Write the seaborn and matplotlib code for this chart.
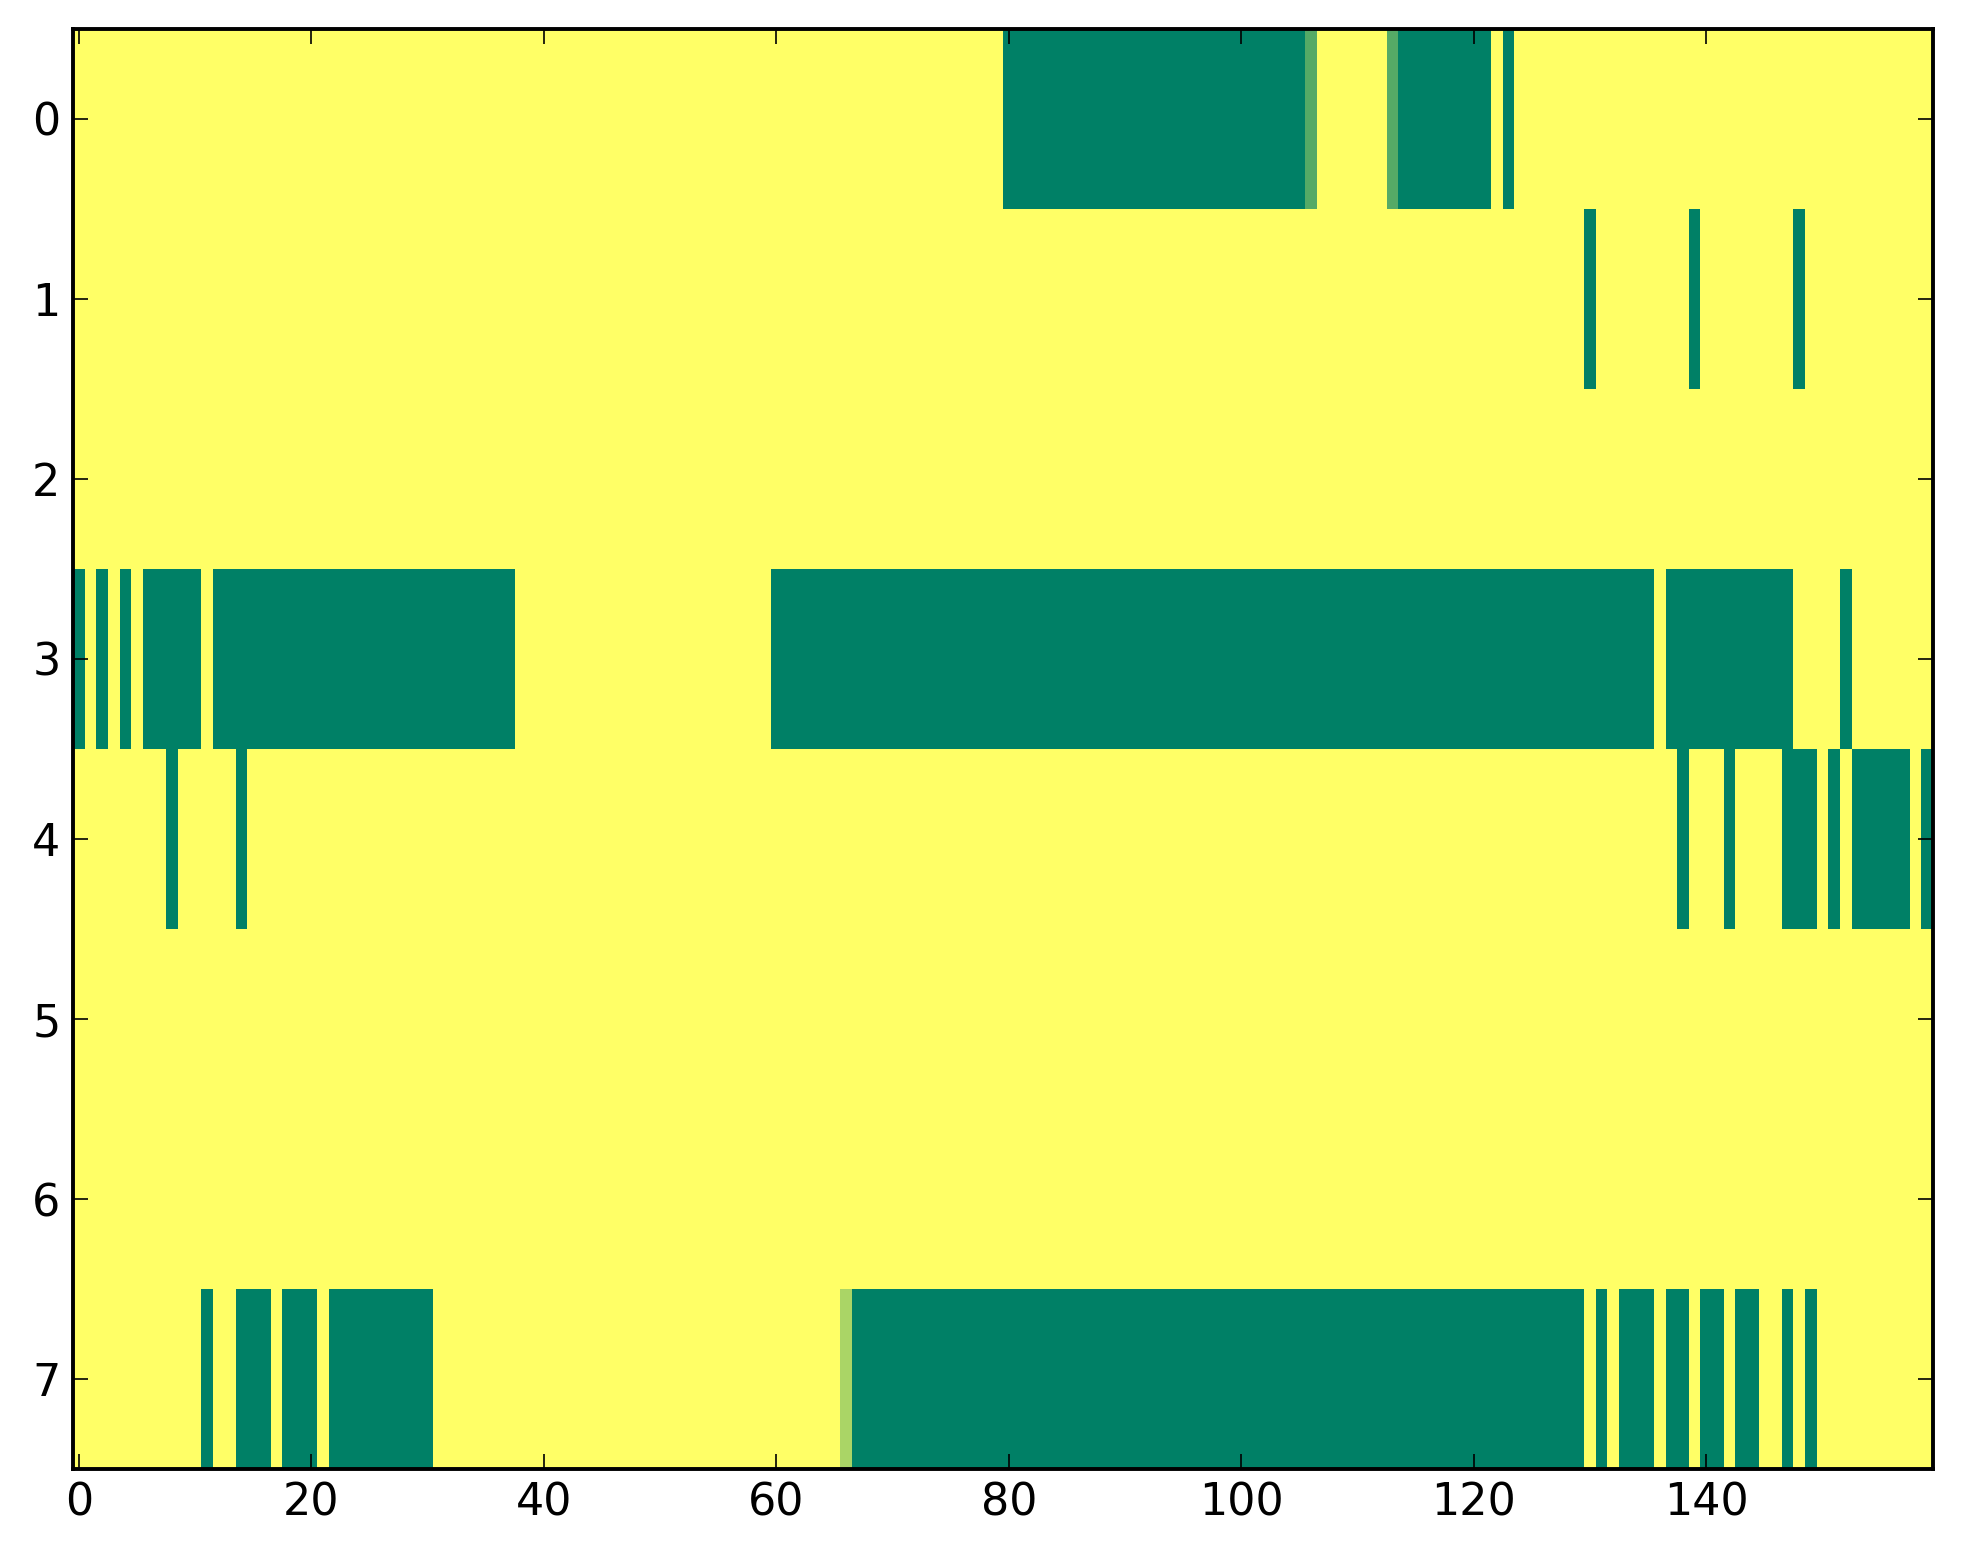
import numpy as np
import pandas as pd
import matplotlib
matplotlib.use("Agg")
import matplotlib.pyplot as plt
import seaborn as sns

# Runs of non-zero cells per row as (first_col, last_col, value)
n_cols = 160
row_labels = [0, 1, 2, 3, 4, 5, 6, 7]
row0 = [(80, 105, 1.0), (106, 106, 2 / 3), (113, 113, 2 / 3), (114, 121, 1.0), (123, 123, 1.0)]
row1 = [(130, 130, 1.0), (139, 139, 1.0), (148, 148, 1.0)]
row2 = []
row3 = [(0, 0, 1.0), (2, 2, 1.0), (4, 4, 1.0), (6, 10, 1.0), (12, 37, 1.0),
        (60, 135, 1.0), (137, 147, 1.0), (152, 152, 1.0)]
row4 = [(8, 8, 1.0), (14, 14, 1.0), (138, 138, 1.0), (142, 142, 1.0), (147, 149, 1.0),
        (151, 151, 1.0), (153, 157, 1.0), (159, 159, 1.0)]
row5 = []
row6 = []
row7 = [(11, 11, 1.0), (14, 16, 1.0), (18, 20, 1.0), (22, 30, 1.0), (66, 66, 1 / 3),
        (67, 129, 1.0), (131, 131, 1.0), (133, 135, 1.0), (137, 138, 1.0), (140, 141, 1.0),
        (143, 144, 1.0), (147, 147, 1.0), (149, 149, 1.0)]
rows = [row0, row1, row2, row3, row4, row5, row6, row7]

x_ticks = [0, 20, 40, 60, 80, 100, 120, 140]

grid = np.zeros((len(rows), n_cols))
for r, runs in enumerate(rows):
    for a, b, v in runs:
        grid[r, a:b + 1] = v
df = pd.DataFrame(grid, index=row_labels, columns=range(n_cols))

fig = plt.figure(figsize=(1963 / 200, 1564 / 200), dpi=200)
ax = fig.add_axes([0.0372, 0.0607, 0.9475, 0.9208])
sns.heatmap(df, ax=ax, cmap="summer_r", vmin=0, vmax=1, cbar=False,
            xticklabels=False, yticklabels=False)

for s in ax.spines.values():
    s.set_visible(True)
    s.set_color("black")
    s.set_linewidth(1.4)

ax.set_xticks([t + 0.5 for t in x_ticks])
ax.set_xticklabels([str(t) for t in x_ticks], rotation=0)
ax.set_yticks([r + 0.5 for r in row_labels])
ax.set_yticklabels([str(r) for r in row_labels], rotation=0)
ax.tick_params(direction="in", length=5.4, width=0.6, colors="black",
               top=True, right=True, bottom=True, left=True,
               labeltop=False, labelright=False, labelsize=16, pad=4.5)
ax.set_xlabel("")
ax.set_ylabel("")

fig.savefig("out.png", dpi=200)
